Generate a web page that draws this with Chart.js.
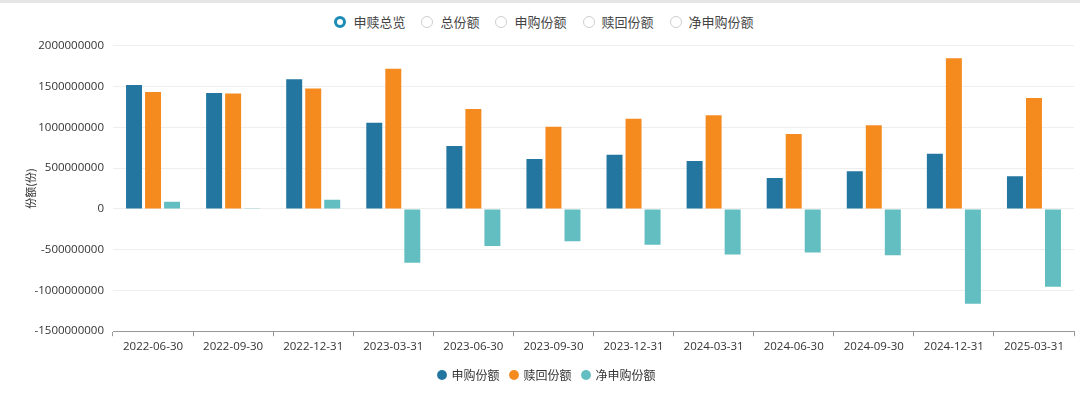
<!DOCTYPE html>
<html>
<head>
<meta charset="utf-8">
<script src="https://cdn.jsdelivr.net/npm/chart.js@4/dist/chart.umd.min.js"></script>
<style>
  html, body { margin: 0; padding: 0; background: #fff; }
  body { width: 1080px; height: 396px; position: relative; overflow: hidden;
         font-family: "Open Sans", "Noto Sans CJK SC", sans-serif; }
  .topline { position: absolute; left: 0; top: 0; width: 1080px; height: 3px; background: #e6e6e6; }
  .tabs { position: absolute; top: 12px; left: 4px; width: 1080px; display: flex; justify-content: center;
          font-size: 13px; color: #444; font-family: "Noto Sans CJK SC", sans-serif; }
  .tab { display: flex; align-items: center; margin: 0 8px; }
  .dot { width: 12px; height: 12px; border-radius: 50%; border: 1px solid #cfcfcf; margin-right: 7px; box-sizing: border-box; }
  .tab.on .dot { border: 3px solid #1b8db5; }
  #wrap { position: absolute; left: 0; top: 30px; width: 1080px; height: 366px; }
</style>
</head>
<body>
<div class="topline"></div>
<div class="tabs">
  <div class="tab on"><span class="dot"></span>申赎总览</div>
  <div class="tab"><span class="dot"></span>总份额</div>
  <div class="tab"><span class="dot"></span>申购份额</div>
  <div class="tab"><span class="dot"></span>赎回份额</div>
  <div class="tab"><span class="dot"></span>净申购份额</div>
</div>
<div id="wrap"><canvas id="c"></canvas></div>
<script>
const dates = ['2022-06-30', '2022-09-30', '2022-12-31', '2023-03-31', '2023-06-30', '2023-09-30',
  '2023-12-31', '2024-03-31', '2024-06-30', '2024-09-30', '2024-12-31', '2025-03-31'];
const subscribe = [1519000000, 1421000000, 1592000000, 1057000000, 773000000, 611000000,
  664000000, 587000000, 380000000, 462000000, 676000000, 401000000];
const redeem = [1434000000, 1417000000, 1478000000, 1721000000, 1227000000, 1008000000,
  1106000000, 1150000000, 919000000, 1028000000, 1847000000, 1361000000];
const netSubscribe = [89000000, 3000000, 113000000, -661000000, -454000000, -397000000,
  -438000000, -559000000, -535000000, -567000000, -1163000000, -956000000];

const font = { family: '"Open Sans", "Noto Sans CJK SC", sans-serif', size: 11.5 };

new Chart(document.getElementById('c'), {
  type: 'bar',
  data: {
    labels: dates,
    datasets: [
      { label: '申购份额', data: subscribe, backgroundColor: '#22769f' },
      { label: '赎回份额', data: redeem, backgroundColor: '#f58a1f' },
      { label: '净申购份额', data: netSubscribe, backgroundColor: '#62bec0' }
    ]
  },
  options: {
    responsive: true,
    maintainAspectRatio: false,
    animation: false,
    categoryPercentage: 0.7125,
    barPercentage: 0.84,
    layout: { padding: { left: 20, right: 6, top: 6, bottom: 5 } },
    plugins: {
      tooltip: { enabled: false },
      legend: {
        position: 'bottom',
        labels: {
          usePointStyle: true, pointStyle: 'circle', boxWidth: 7, boxHeight: 7,
          padding: 11, color: '#333',
          font: { family: '"Noto Sans CJK SC", sans-serif', size: 12 }
        }
      }
    },
    scales: {
      x: {
        grid: { display: true, drawOnChartArea: false, offset: true, color: '#999', tickLength: 5 },
        border: { color: '#999' },
        ticks: { color: '#333', font: font, maxRotation: 0, padding: 4 }
      },
      y: {
        min: -1500000000, max: 2000000000,
        afterFit: s => { s.width = 93; },
        ticks: { stepSize: 500000000, color: '#333', font: font, padding: 9,
          callback: v => String(v) },
        grid: { color: '#eeeeee', drawTicks: false },
        border: { display: false },
        title: { display: true, text: '份额(份)', color: '#333',
          font: { family: '"Noto Sans CJK SC", sans-serif', size: 11 } }
      }
    }
  }
});
</script>
</body>
</html>
